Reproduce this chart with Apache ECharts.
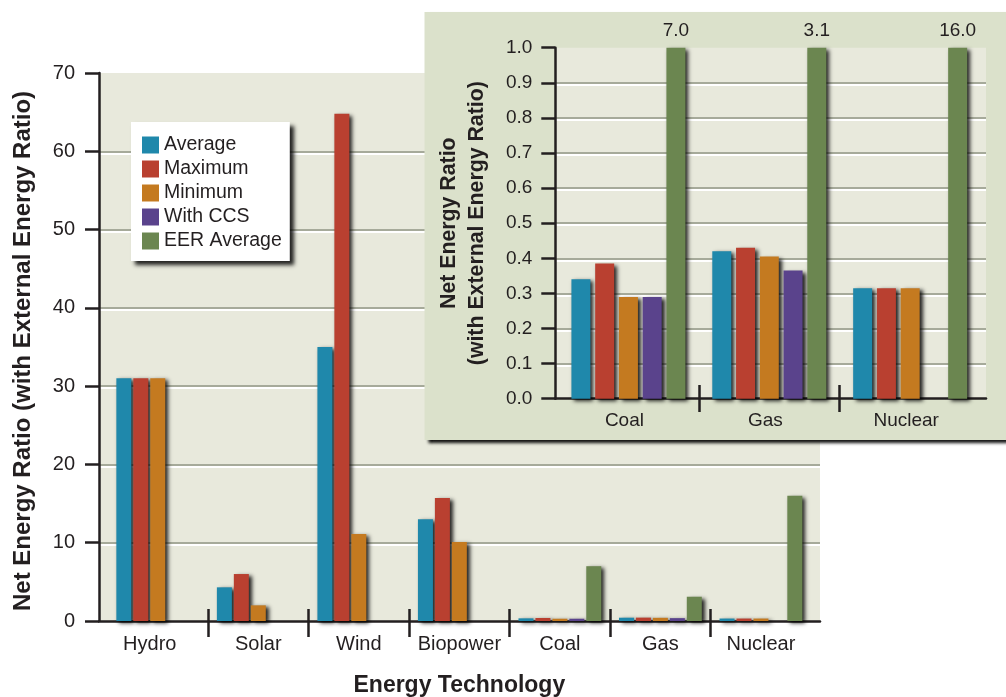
<!DOCTYPE html>
<html>
<head>
<meta charset="utf-8">
<script src="https://cdn.jsdelivr.net/npm/echarts@6/dist/echarts.min.js"></script>
<style>
html,body{margin:0;padding:0;background:#fff;}
#chart{width:1006px;height:697px;}
</style>
</head>
<body>
<div id="chart"></div>
<script>
// ---- data ----
const categories = ['Hydro', 'Solar', 'Wind', 'Biopower', 'Coal', 'Gas', 'Nuclear'];
const seriesNames = ['Average', 'Maximum', 'Minimum', 'With CCS', 'EER Average'];
const average    = [31, 4.3, 35, 13, 0.34, 0.42, 0.315];
const maximum    = [31, 6.0, 64.8, 15.7, 0.385, 0.43, 0.315];
const minimum    = [31, 2.0, 11.1, 10.1, 0.29, 0.405, 0.315];
const withCCS    = [null, null, null, null, 0.29, 0.365, null];
const eerAverage = [null, null, null, null, 7.0, 3.1, 16.0];
const mainTicks = [0, 10, 20, 30, 40, 50, 60, 70];
const insetTicks = [0, 0.1, 0.2, 0.3, 0.4, 0.5, 0.6, 0.7, 0.8, 0.9, 1.0];
const insetFrom = 4; // inset shows Coal, Gas, Nuclear

// ---- styles ----
const colors = ['#1f88ab', '#b94030', '#c47a20', '#5a438c', '#6b8650'];
const FONT = "'Liberation Sans', Arial, Helvetica, sans-serif";
const TXT = '#231f20';
const AX = '#231f20';
const splitStyle = {color: '#a6aa9a', width: 2, shadowColor: '#ffffff', shadowOffsetY: 2, shadowBlur: 0};
const barShadow = {shadowColor: 'rgba(0,0,0,0.85)', shadowOffsetX: 3, shadowOffsetY: 2, shadowBlur: 4};

const allData = [average, maximum, minimum, withCCS, eerAverage];
const insetCats = categories.slice(insetFrom);

// ---- layout ----
const W = 1006, H = 697;
const mainBg = {left: 99, right: W - 820, top: 73, bottom: H - 621};
const mainData = {left: 107.5, right: W - 811.2, top: 73, bottom: H - 621};
const mainBand = (W - mainData.right - mainData.left) / categories.length;
const insetBg = {left: 555.3, right: W - 986, top: 47.7, bottom: H - 398.7};
const insetData = {left: 558, right: W - 980.6, top: 47.7, bottom: H - 398.7};
const insetBand = (W - insetData.right - insetData.left) / insetCats.length;

const gridBase = {outerBoundsMode: 'none', containLabel: false};
const grids = [
  Object.assign({show: true, backgroundColor: '#e8e9dc', borderWidth: 0, z: 0}, gridBase, mainBg),
  Object.assign({z: 1}, gridBase, mainData),
  Object.assign({left: mainData.left + mainBand, right: mainData.right + mainBand, top: 73, bottom: H - 609, z: 1}, gridBase),
  Object.assign({show: true, backgroundColor: '#e8e9dc', borderWidth: 0, z: 11}, gridBase, insetBg),
  Object.assign({z: 12}, gridBase, insetData),
  Object.assign({left: insetData.left + insetBand, right: insetData.right + insetBand, top: 47.7, bottom: H - 385, z: 12}, gridBase)
];

const hiddenAxis = (gi, extra) => Object.assign({type: 'value', gridIndex: gi, show: false}, extra || {});

const xAxes = [
  {type: 'value', gridIndex: 0, min: 0, max: 1, z: 1,
   axisLine: {show: true, lineStyle: {color: AX, width: 2.5}},
   axisTick: {show: false}, axisLabel: {show: false}, splitLine: {show: false}},
  {type: 'category', gridIndex: 1, data: categories, z: 1,
   axisLine: {show: false}, axisTick: {show: false},
   axisLabel: {fontFamily: FONT, fontSize: 20, color: TXT, margin: 13, interval: 0,
               formatter: (v, i) => i === 0 ? '{first|' + v + '}' : v,
               rich: {first: {fontFamily: FONT, fontSize: 20, color: TXT, padding: [0, 16, 0, 0]}}},
   name: 'Energy Technology', nameLocation: 'middle', nameGap: 53,
   nameTextStyle: {fontFamily: FONT, fontSize: 23, fontWeight: 'bold', color: TXT}},
  {type: 'value', gridIndex: 2, min: 0, max: categories.length - 2, interval: 1, z: 1,
   axisLine: {show: false}, axisLabel: {show: false}, splitLine: {show: false},
   axisTick: {show: true, length: 28, lineStyle: {color: AX, width: 2.5}}},
  {type: 'value', gridIndex: 3, min: 0, max: 1, z: 12,
   axisLine: {show: true, lineStyle: {color: AX, width: 2.5}},
   axisTick: {show: false}, axisLabel: {show: false}, splitLine: {show: false}},
  {type: 'category', gridIndex: 4, data: insetCats, z: 12,
   axisLine: {show: false}, axisTick: {show: false},
   axisLabel: {fontFamily: FONT, fontSize: 19, color: TXT, margin: 13, interval: 0,
               formatter: v => '{c|' + v + '}',
               rich: {c: {fontFamily: FONT, fontSize: 19, color: TXT, padding: [0, 8, 0, 0]}}}},
  {type: 'value', gridIndex: 5, min: 0, max: insetCats.length - 2, interval: 1, z: 12,
   axisLine: {show: false}, axisLabel: {show: false}, splitLine: {show: false},
   axisTick: {show: true, length: 27, lineStyle: {color: AX, width: 2.5}}}
];

const yAxes = [
  {type: 'value', gridIndex: 0, min: mainTicks[0], max: mainTicks[mainTicks.length - 1], interval: mainTicks[1] - mainTicks[0], z: 1,
   axisLine: {show: true, onZero: false, lineStyle: {color: AX, width: 2.5}},
   axisTick: {show: true, length: 14, lineStyle: {color: AX, width: 2.5}},
   axisLabel: {fontFamily: FONT, fontSize: 20, color: TXT, margin: 24},
   splitLine: {show: true, showMinLine: false, showMaxLine: false, lineStyle: splitStyle},
   name: 'Net Energy Ratio (with External Energy Ratio)', nameLocation: 'middle', nameGap: 64,
   nameTextStyle: {fontFamily: FONT, fontSize: 24, fontWeight: 'bold', color: TXT, padding: [0, 8, 0, 0]}},
  {type: 'value', gridIndex: 0, min: mainTicks[0], max: mainTicks[mainTicks.length - 1], interval: mainTicks[1] - mainTicks[0], z: 1,
   axisLine: {show: false}, axisLabel: {show: false}, splitLine: {show: false},
   axisTick: {show: true, inside: true, length: 14, lineStyle: {color: AX, width: 2.5}}},
  hiddenAxis(1, {min: mainTicks[0], max: mainTicks[mainTicks.length - 1]}),
  hiddenAxis(2, {min: 0, max: 1}),
  {type: 'value', gridIndex: 3, min: insetTicks[0], max: insetTicks[insetTicks.length - 1], interval: 0.1, z: 12,
   axisLine: {show: true, onZero: false, lineStyle: {color: AX, width: 2.5}},
   axisTick: {show: true, length: 14, lineStyle: {color: AX, width: 2.5}},
   axisLabel: {fontFamily: FONT, fontSize: 19, color: TXT, margin: 23, formatter: v => v.toFixed(1)},
   splitLine: {show: true, showMinLine: false, showMaxLine: false, lineStyle: splitStyle},
   name: 'Net Energy Ratio\n(with External Energy Ratio)', nameLocation: 'middle', nameGap: 64,
   nameTextStyle: {fontFamily: FONT, fontSize: 21.3, fontWeight: 'bold', color: TXT, lineHeight: 28}},
  {type: 'value', gridIndex: 3, min: insetTicks[0], max: insetTicks[insetTicks.length - 1], interval: 0.1, z: 12,
   axisLine: {show: false}, axisLabel: {show: false}, splitLine: {show: false},
   axisTick: {show: true, inside: true, length: 14, lineStyle: {color: AX, width: 2.5}}},
  hiddenAxis(4, {min: insetTicks[0], max: insetTicks[insetTicks.length - 1]}),
  hiddenAxis(5, {min: 0, max: 1})
];

const series = [];
seriesNames.forEach((name, i) => {
  series.push({
    name: name, type: 'bar', xAxisIndex: 1, yAxisIndex: 2, z: 2,
    data: allData[i], barWidth: 15, barGap: '13%',
    itemStyle: Object.assign({color: colors[i]}, barShadow)
  });
});
seriesNames.forEach((name, i) => {
  const isEER = i === seriesNames.length - 1;
  series.push({
    name: name, type: 'bar', xAxisIndex: 4, yAxisIndex: 6, z: 13, clip: true,
    data: allData[i].slice(insetFrom), barWidth: 19, barGap: '25%',
    itemStyle: Object.assign({color: colors[i]}, barShadow),
    label: isEER ? {show: true, position: 'top', distance: 7, fontFamily: FONT, fontSize: 19, color: TXT,
                    formatter: p => Number(p.value).toFixed(1)} : {show: false}
  });
});

const chart = echarts.init(document.getElementById('chart'), null, {renderer: 'canvas'});
chart.setOption({
  animation: false,
  backgroundColor: '#ffffff',
  textStyle: {fontFamily: FONT},
  grid: grids,
  xAxis: xAxes,
  yAxis: yAxes,
  graphic: [{
    type: 'rect', left: 424.5, top: 12, z: 10,
    shape: {width: W - 424.5 + 20, height: 428},
    style: {fill: '#dbe1cb', shadowColor: 'rgba(0,0,0,0.95)', shadowOffsetX: 3, shadowOffsetY: 3, shadowBlur: 3}
  }],
  legend: {
    data: seriesNames, orient: 'vertical', left: 131, top: 122, z: 5,
    backgroundColor: '#ffffff', padding: [13, 8, 10, 11],
    itemWidth: 17, itemHeight: 17, itemGap: 4, icon: 'rect',
    itemStyle: {shadowBlur: 0, shadowOffsetX: 0, shadowOffsetY: 0, shadowColor: 'rgba(0,0,0,0)'},
    textStyle: {fontFamily: FONT, fontSize: 19.5, color: TXT},
    shadowColor: 'rgba(0,0,0,0.85)', shadowBlur: 4, shadowOffsetX: 4, shadowOffsetY: 4
  },
  series: series
});
</script>
</body>
</html>
